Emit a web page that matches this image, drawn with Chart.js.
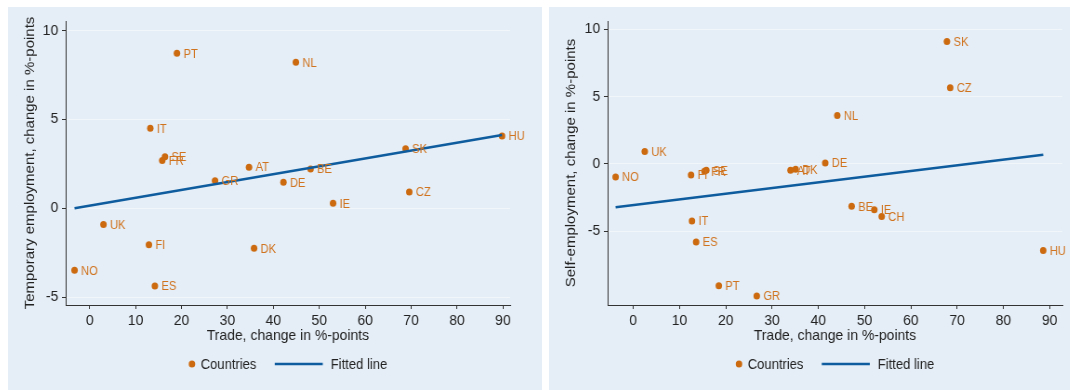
<!DOCTYPE html>
<html>
<head>
<meta charset="utf-8">
<script src="https://cdn.jsdelivr.net/npm/chart.js@4"></script>
<style>
  body { margin: 0; background: #fff; width: 1070px; height: 390px; overflow: hidden; }
  .panel { position: absolute; top: 7px; height: 383px; background: #e5eef7; overflow: hidden; }
  .inner { transform: scaleX(0.93); transform-origin: 0 0; height: 383px; }
  canvas { display: block; }
</style>
</head>
<body>
<div class="panel" style="left:8px;width:534px"><div class="inner" style="width:574px"><canvas id="temp" width="574" height="383"></canvas></div></div>
<div class="panel" style="left:549px;width:521px"><div class="inner" style="width:560px"><canvas id="self" width="560" height="383"></canvas></div></div>
<script>
// ticks
const xTicks = [0, 10, 20, 30, 40, 50, 60, 70, 80, 90];
const yTicks = [-5, 0, 5, 10];

// left panel: temporary employment
const tempCountries = ['NO', 'UK', 'FI', 'IT', 'ES', 'FR', 'SE', 'PT', 'GR', 'AT', 'DK', 'DE', 'NL', 'BE', 'IE', 'SK', 'CZ', 'HU'];
const tempTrade = [-3.3, 3.0, 12.9, 13.2, 14.2, 15.8, 16.4, 19.0, 27.3, 34.7, 35.8, 42.2, 44.9, 48.1, 53.0, 68.8, 69.6, 89.8];
const tempChange = [-3.49, -0.92, -2.05, 4.5, -4.37, 2.68, 2.9, 8.72, 1.55, 2.31, -2.25, 1.46, 8.21, 2.21, 0.28, 3.34, 0.92, 4.07];
const tempFitX = [-3.3, 89.8];
const tempFitY = [0.0, 4.12];

// right panel: self-employment
const selfCountries = ['NO', 'UK', 'FI', 'IT', 'ES', 'FR', 'SE', 'PT', 'GR', 'AT', 'DK', 'DE', 'NL', 'BE', 'IE', 'CH', 'SK', 'CZ', 'HU'];
const selfTrade = [-3.8, 2.5, 12.5, 12.7, 13.6, 15.4, 15.8, 18.5, 26.7, 34.0, 35.1, 41.5, 44.1, 47.2, 52.1, 53.7, 67.8, 68.5, 88.6];
const selfChange = [-0.97, 0.92, -0.82, -4.24, -5.8, -0.55, -0.48, -9.05, -9.8, -0.48, -0.4, 0.07, 3.59, -3.15, -3.4, -3.9, 9.08, 5.65, -6.43];
const selfFitX = [-3.8, 88.6];
const selfFitY = [-3.22, 0.68];

const FONT = "'Liberation Sans', Arial, sans-serif";
const ORANGE = '#cc6a10';
const LABEL = '#d0731e';
const BLUE = '#0e5c9e';
const INK = '#222';

const labelPlugin = {
  id: 'countryLabels',
  afterDatasetsDraw(chart) {
    const ds = chart.data.datasets[1];
    const meta = chart.getDatasetMeta(1);
    const ctx = chart.ctx;
    ctx.save();
    ctx.font = '12px ' + FONT;
    ctx.fillStyle = LABEL;
    ctx.textBaseline = 'middle';
    ctx.textAlign = 'left';
    meta.data.forEach((pt, i) => ctx.fillText(ds.names[i], pt.x + 7, pt.y + 1));
    ctx.restore();
  }
};

const legendPlugin = {
  id: 'stataLegend',
  afterDraw(chart) {
    const ctx = chart.ctx;
    const a = chart.chartArea;
    const y = 357;
    ctx.save();
    ctx.font = '14px ' + FONT;
    const t1 = chart.data.datasets[1].label, t2 = chart.data.datasets[0].label;
    const w1 = ctx.measureText(t1).width, w2 = ctx.measureText(t2).width;
    const total = 3.5 + 9.4 + w1 + 19.7 + 51.6 + 8.6 + w2;
    let x = (a.left + a.right) / 2 - total / 2;
    ctx.fillStyle = ORANGE;
    ctx.beginPath();
    ctx.arc(x + 3.5, y, 3.5, 0, Math.PI * 2);
    ctx.fill();
    x += 3.5 + 9.4;
    ctx.fillStyle = INK;
    ctx.textBaseline = 'middle';
    ctx.fillText(t1, x, y + 1);
    x += w1 + 19.7;
    ctx.strokeStyle = BLUE;
    ctx.lineWidth = 2.5;
    ctx.beginPath();
    ctx.moveTo(x, y);
    ctx.lineTo(x + 51.6, y);
    ctx.stroke();
    x += 51.6 + 8.6;
    ctx.fillText(t2, x, y + 1);
    ctx.restore();
  }
};

function makeChart(id, cfg) {
  const points = cfg.xs.map((x, i) => ({ x: x, y: cfg.ys[i] }));
  const fit = cfg.fitX.map((x, i) => ({ x: x, y: cfg.fitY[i] }));
  return new Chart(document.getElementById(id), {
    type: 'scatter',
    data: {
      datasets: [
        { label: 'Fitted line', data: fit, showLine: true, borderColor: BLUE, borderWidth: 2.5, pointRadius: 0, order: 0 },
        { label: 'Countries', data: points, names: cfg.names, backgroundColor: ORANGE, borderColor: ORANGE, borderWidth: 0, pointRadius: 3.5, order: 1 }
      ]
    },
    options: {
      responsive: false,
      animation: false,
      devicePixelRatio: 1,
      layout: { padding: { left: 0, top: 14, right: cfg.padRight, bottom: 41 } },
      plugins: { legend: { display: false }, tooltip: { enabled: false } },
      scales: {
        x: {
          type: 'linear', min: cfg.xMin, max: cfg.xMax,
          afterBuildTicks: s => { s.ticks = xTicks.map(v => ({ value: v })); },
          afterFit: s => { s.height = 44; },
          grid: { drawOnChartArea: false, drawTicks: true, tickLength: 4, tickColor: '#333' },
          border: { color: '#333', width: 1 },
          ticks: { color: INK, font: { family: FONT, size: 15 }, padding: 3, maxRotation: 0, autoSkip: false },
          title: { display: true, text: 'Trade, change in %-points', color: INK, font: { family: FONT, size: 15 }, padding: { top: 0, bottom: 4 } }
        },
        y: {
          type: 'linear', min: cfg.yMin, max: cfg.yMax,
          afterBuildTicks: s => { s.ticks = yTicks.map(v => ({ value: v })); },
          afterFit: s => { s.width = cfg.yWidth; },
          grid: { color: 'rgba(255,255,255,0.45)', lineWidth: 1, drawTicks: true, tickLength: 4, tickColor: '#333' },
          border: { color: '#333', width: 1 },
          ticks: { color: INK, font: { family: FONT, size: 15 }, padding: 4 },
          title: { display: true, text: cfg.yTitle, color: INK, font: { family: FONT, size: 15 }, padding: { top: 15, bottom: 0 } }
        }
      }
    },
    plugins: [labelPlugin, legendPlugin]
  });
}

makeChart('temp', {
  names: tempCountries, xs: tempTrade, ys: tempChange, fitX: tempFitX, fitY: tempFitY,
  xMin: -5.23, xMax: 91.58, yMin: -5.44, yMax: 10.53, yWidth: 62, padRight: 34,
  yTitle: 'Temporary employment, change in %-points'
});
makeChart('self', {
  names: selfCountries, xs: selfTrade, ys: selfChange, fitX: selfFitX, fitY: selfFitY,
  xMin: -5.53, xMax: 92.74, yMin: -10.47, yMax: 10.6, yWidth: 63, padRight: 8,
  yTitle: 'Self-employment, change in %-points'
});
</script>
</body>
</html>
